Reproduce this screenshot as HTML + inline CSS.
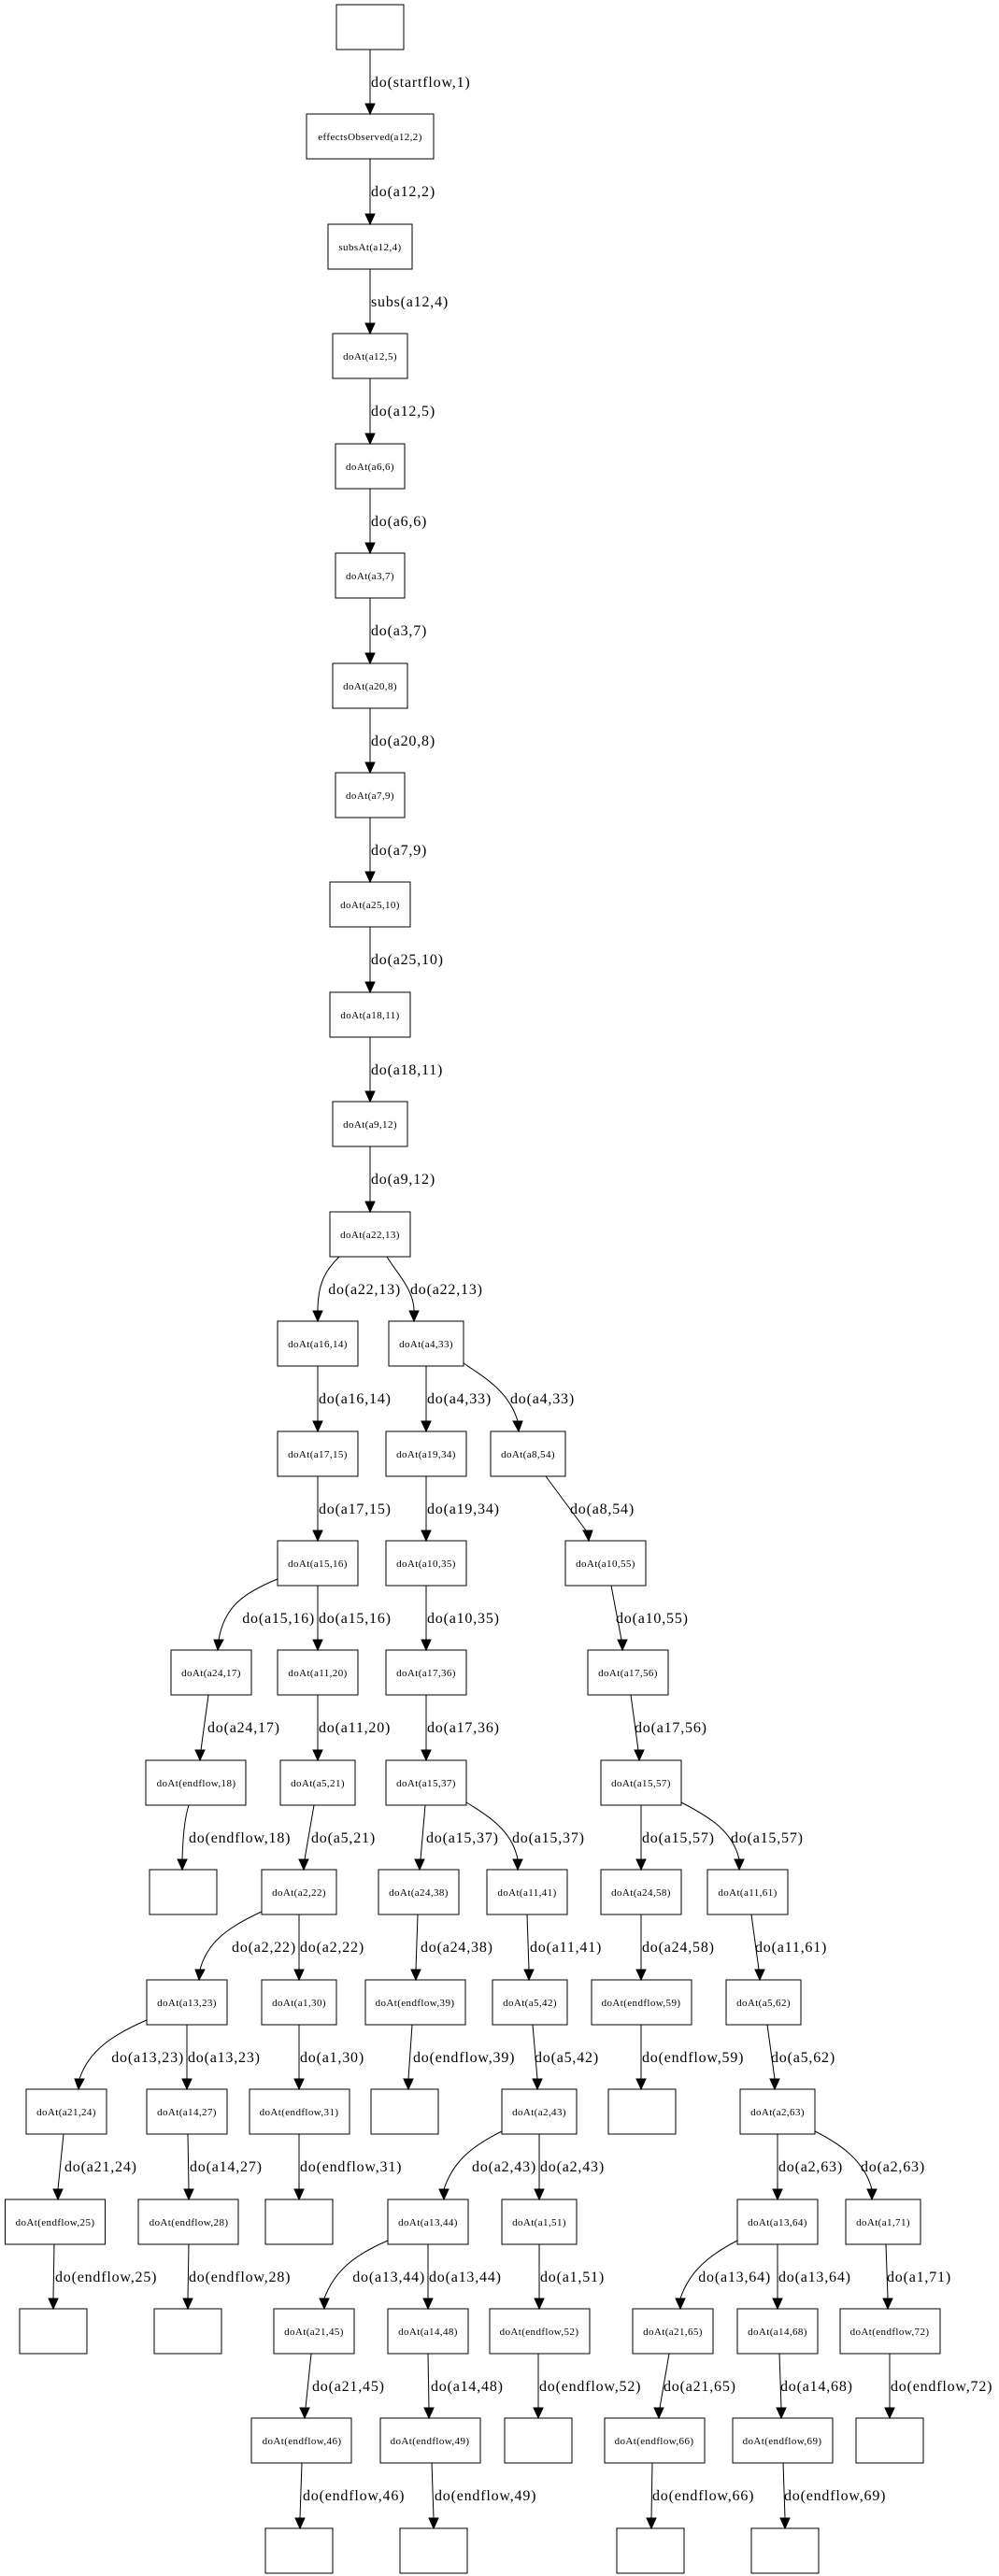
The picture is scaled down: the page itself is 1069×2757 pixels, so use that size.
<!DOCTYPE html>
<html><head><meta charset="utf-8"><style>
html,body{margin:0;padding:0;background:#fff}
svg{display:block}
.n{fill:#fff;stroke:#000;stroke-width:1}
.e{fill:none;stroke:#000;stroke-width:1}
.a{fill:#000;stroke:#000;stroke-width:1}
.t{font-family:"Liberation Serif",serif;font-size:11px;letter-spacing:0.4px;text-anchor:middle}
.l{font-family:"Liberation Serif",serif;font-size:16px;letter-spacing:0.8px}
.r{text-anchor:end}
</style></head><body>
<svg width="1069" height="2757" viewBox="0 0 1069 2757" xmlns="http://www.w3.org/2000/svg">
<g>
<!-- nodes -->
<rect class="n" x="360" y="5" width="72" height="48"/>
<rect class="n" x="328" y="122" width="136" height="48"/><text class="t" x="396" y="150">effectsObserved(a12,2)</text>
<rect class="n" x="351" y="240" width="90" height="48"/><text class="t" x="396" y="268">subsAt(a12,4)</text>
<rect class="n" x="356" y="357" width="80" height="48"/><text class="t" x="396" y="385">doAt(a12,5)</text>
<rect class="n" x="359" y="475" width="74" height="48"/><text class="t" x="396" y="503">doAt(a6,6)</text>
<rect class="n" x="359" y="592" width="74" height="48"/><text class="t" x="396" y="620">doAt(a3,7)</text>
<rect class="n" x="356" y="710" width="80" height="48"/><text class="t" x="396" y="738">doAt(a20,8)</text>
<rect class="n" x="359" y="827" width="74" height="48"/><text class="t" x="396" y="855">doAt(a7,9)</text>
<rect class="n" x="353" y="944" width="86" height="48"/><text class="t" x="396" y="972">doAt(a25,10)</text>
<rect class="n" x="353" y="1062" width="86" height="48"/><text class="t" x="396" y="1090">doAt(a18,11)</text>
<rect class="n" x="356" y="1179" width="80" height="48"/><text class="t" x="396" y="1207">doAt(a9,12)</text>
<rect class="n" x="353" y="1297" width="86" height="48"/><text class="t" x="396" y="1325">doAt(a22,13)</text>

<rect class="n" x="297" y="1414" width="86" height="48"/><text class="t" x="340" y="1442">doAt(a16,14)</text>
<rect class="n" x="416" y="1414" width="80" height="48"/><text class="t" x="456" y="1442">doAt(a4,33)</text>

<rect class="n" x="297" y="1532" width="86" height="48"/><text class="t" x="340" y="1560">doAt(a17,15)</text>
<rect class="n" x="413" y="1532" width="86" height="48"/><text class="t" x="456" y="1560">doAt(a19,34)</text>
<rect class="n" x="525" y="1532" width="80" height="48"/><text class="t" x="565" y="1560">doAt(a8,54)</text>

<rect class="n" x="297" y="1649" width="86" height="48"/><text class="t" x="340" y="1677">doAt(a15,16)</text>
<rect class="n" x="413" y="1649" width="86" height="48"/><text class="t" x="456" y="1677">doAt(a10,35)</text>
<rect class="n" x="605" y="1649" width="86" height="48"/><text class="t" x="648" y="1677">doAt(a10,55)</text>

<rect class="n" x="183" y="1766" width="86" height="48"/><text class="t" x="226" y="1794">doAt(a24,17)</text>
<rect class="n" x="297" y="1766" width="86" height="48"/><text class="t" x="340" y="1794">doAt(a11,20)</text>
<rect class="n" x="413" y="1766" width="86" height="48"/><text class="t" x="456" y="1794">doAt(a17,36)</text>
<rect class="n" x="629" y="1766" width="86" height="48"/><text class="t" x="672" y="1794">doAt(a17,56)</text>

<rect class="n" x="156" y="1884" width="107" height="48"/><text class="t" x="210" y="1912">doAt(endflow,18)</text>
<rect class="n" x="300" y="1884" width="80" height="48"/><text class="t" x="340" y="1912">doAt(a5,21)</text>
<rect class="n" x="413" y="1884" width="86" height="48"/><text class="t" x="456" y="1912">doAt(a15,37)</text>
<rect class="n" x="643" y="1884" width="86" height="48"/><text class="t" x="686" y="1912">doAt(a15,57)</text>

<rect class="n" x="160" y="2001" width="72" height="48"/>
<rect class="n" x="280" y="2001" width="80" height="48"/><text class="t" x="320" y="2029">doAt(a2,22)</text>
<rect class="n" x="405" y="2001" width="86" height="48"/><text class="t" x="448" y="2029">doAt(a24,38)</text>
<rect class="n" x="521" y="2001" width="86" height="48"/><text class="t" x="564" y="2029">doAt(a11,41)</text>
<rect class="n" x="643" y="2001" width="86" height="48"/><text class="t" x="686" y="2029">doAt(a24,58)</text>
<rect class="n" x="757" y="2001" width="86" height="48"/><text class="t" x="800" y="2029">doAt(a11,61)</text>

<rect class="n" x="157" y="2119" width="86" height="48"/><text class="t" x="200" y="2147">doAt(a13,23)</text>
<rect class="n" x="280" y="2119" width="80" height="48"/><text class="t" x="320" y="2147">doAt(a1,30)</text>
<rect class="n" x="391" y="2119" width="107" height="48"/><text class="t" x="444" y="2147">doAt(endflow,39)</text>
<rect class="n" x="527" y="2119" width="80" height="48"/><text class="t" x="567" y="2147">doAt(a5,42)</text>
<rect class="n" x="633" y="2119" width="107" height="48"/><text class="t" x="686" y="2147">doAt(endflow,59)</text>
<rect class="n" x="777" y="2119" width="80" height="48"/><text class="t" x="817" y="2147">doAt(a5,62)</text>

<rect class="n" x="28" y="2236" width="86" height="48"/><text class="t" x="71" y="2264">doAt(a21,24)</text>
<rect class="n" x="157" y="2236" width="86" height="48"/><text class="t" x="200" y="2264">doAt(a14,27)</text>
<rect class="n" x="267" y="2236" width="107" height="48"/><text class="t" x="320" y="2264">doAt(endflow,31)</text>
<rect class="n" x="397" y="2236" width="72" height="48"/>
<rect class="n" x="537" y="2236" width="80" height="48"/><text class="t" x="577" y="2264">doAt(a2,43)</text>
<rect class="n" x="651" y="2236" width="72" height="48"/>
<rect class="n" x="792" y="2236" width="80" height="48"/><text class="t" x="832" y="2264">doAt(a2,63)</text>

<rect class="n" x="5.5" y="2354" width="107" height="48"/><text class="t" x="59" y="2382">doAt(endflow,25)</text>
<rect class="n" x="148" y="2354" width="107" height="48"/><text class="t" x="202" y="2382">doAt(endflow,28)</text>
<rect class="n" x="284" y="2354" width="72" height="48"/>
<rect class="n" x="415" y="2354" width="86" height="48"/><text class="t" x="458" y="2382">doAt(a13,44)</text>
<rect class="n" x="537" y="2354" width="80" height="48"/><text class="t" x="577" y="2382">doAt(a1,51)</text>
<rect class="n" x="789" y="2354" width="86" height="48"/><text class="t" x="832" y="2382">doAt(a13,64)</text>
<rect class="n" x="905" y="2354" width="80" height="48"/><text class="t" x="945" y="2382">doAt(a1,71)</text>

<rect class="n" x="21" y="2471" width="72" height="48"/>
<rect class="n" x="165" y="2471" width="72" height="48"/>
<rect class="n" x="293" y="2471" width="86" height="48"/><text class="t" x="336" y="2499">doAt(a21,45)</text>
<rect class="n" x="415" y="2471" width="86" height="48"/><text class="t" x="458" y="2499">doAt(a14,48)</text>
<rect class="n" x="524" y="2471" width="107" height="48"/><text class="t" x="577" y="2499">doAt(endflow,52)</text>
<rect class="n" x="677" y="2471" width="86" height="48"/><text class="t" x="720" y="2499">doAt(a21,65)</text>
<rect class="n" x="789" y="2471" width="86" height="48"/><text class="t" x="832" y="2499">doAt(a14,68)</text>
<rect class="n" x="899" y="2471" width="107" height="48"/><text class="t" x="952" y="2499">doAt(endflow,72)</text>

<rect class="n" x="269" y="2588" width="107" height="48"/><text class="t" x="323" y="2616">doAt(endflow,46)</text>
<rect class="n" x="407" y="2588" width="107" height="48"/><text class="t" x="460" y="2616">doAt(endflow,49)</text>
<rect class="n" x="540" y="2588" width="72" height="48"/>
<rect class="n" x="647" y="2588" width="107" height="48"/><text class="t" x="700" y="2616">doAt(endflow,66)</text>
<rect class="n" x="784" y="2588" width="107" height="48"/><text class="t" x="837" y="2616">doAt(endflow,69)</text>
<rect class="n" x="916" y="2588" width="72" height="48"/>

<rect class="n" x="284" y="2706" width="72" height="48"/>
<rect class="n" x="428" y="2706" width="72" height="48"/>
<rect class="n" x="660" y="2706" width="72" height="48"/>
<rect class="n" x="804" y="2706" width="72" height="48"/>

<!-- edges -->
<path class="e" d="M396 53V111"/><polygon class="a" points="391,111 401,111 396,122"/><text class="l" x="397" y="93">do(startflow,1)</text>
<path class="e" d="M396 170V229"/><polygon class="a" points="391,229 401,229 396,240"/><text class="l" x="397" y="210">do(a12,2)</text>
<path class="e" d="M396 288V346"/><polygon class="a" points="391,346 401,346 396,357"/><text class="l" x="397" y="328">subs(a12,4)</text>
<path class="e" d="M396 405V464"/><polygon class="a" points="391,464 401,464 396,475"/><text class="l" x="397" y="445">do(a12,5)</text>
<path class="e" d="M396 523V581"/><polygon class="a" points="391,581 401,581 396,592"/><text class="l" x="397" y="563">do(a6,6)</text>
<path class="e" d="M396 640V699"/><polygon class="a" points="391,699 401,699 396,710"/><text class="l" x="397" y="680">do(a3,7)</text>
<path class="e" d="M396 758V816"/><polygon class="a" points="391,816 401,816 396,827"/><text class="l" x="397" y="798">do(a20,8)</text>
<path class="e" d="M396 875V933"/><polygon class="a" points="391,933 401,933 396,944"/><text class="l" x="397" y="915">do(a7,9)</text>
<path class="e" d="M396 992V1051"/><polygon class="a" points="391,1051 401,1051 396,1062"/><text class="l" x="397" y="1032">do(a25,10)</text>
<path class="e" d="M396 1110V1168"/><polygon class="a" points="391,1168 401,1168 396,1179"/><text class="l" x="397" y="1150">do(a18,11)</text>
<path class="e" d="M396 1227V1286"/><polygon class="a" points="391,1286 401,1286 396,1297"/><text class="l" x="397" y="1267">do(a9,12)</text>

<path class="e" d="M363 1345C351 1357 340 1370 340 1403"/><polygon class="a" points="335,1403 345,1403 340,1414"/><text class="l r" x="429" y="1385">do(a22,13)</text>
<path class="e" d="M414 1345C424 1362 443 1380 443 1403"/><polygon class="a" points="438,1403 448,1403 443,1414"/><text class="l" x="439" y="1385">do(a22,13)</text>

<path class="e" d="M340 1462V1521"/><polygon class="a" points="335,1521 345,1521 340,1532"/><text class="l" x="341" y="1502">do(a16,14)</text>
<path class="e" d="M456 1462V1521"/><polygon class="a" points="451,1521 461,1521 456,1532"/><text class="l" x="457" y="1502">do(a4,33)</text>
<path class="e" d="M496 1459C520 1475 545 1490 554 1521"/><polygon class="a" points="549,1521 559,1521 555,1532"/><text class="l" x="546" y="1502">do(a4,33)</text>

<path class="e" d="M340 1580V1638"/><polygon class="a" points="335,1638 345,1638 340,1649"/><text class="l" x="341" y="1620">do(a17,15)</text>
<path class="e" d="M456 1580V1638"/><polygon class="a" points="451,1638 461,1638 456,1649"/><text class="l" x="457" y="1620">do(a19,34)</text>
<path class="e" d="M584 1580L627 1638"/><polygon class="a" points="624,1638 634,1638 630,1649"/><text class="l" x="610" y="1620">do(a8,54)</text>

<path class="e" d="M297 1690C260 1705 240 1720 234 1755"/><polygon class="a" points="229,1755 239,1755 233,1766"/><text class="l r" x="337" y="1737">do(a15,16)</text>
<path class="e" d="M340 1697V1755"/><polygon class="a" points="335,1755 345,1755 340,1766"/><text class="l" x="341" y="1737">do(a15,16)</text>
<path class="e" d="M456 1697V1755"/><polygon class="a" points="451,1755 461,1755 456,1766"/><text class="l" x="457" y="1737">do(a10,35)</text>
<path class="e" d="M654 1697L665 1755"/><polygon class="a" points="661,1755 671,1755 666,1766"/><text class="l" x="659" y="1737">do(a10,55)</text>

<path class="e" d="M223 1814L215 1873"/><polygon class="a" points="209,1873 219,1873 214,1884"/><text class="l" x="222" y="1854">do(a24,17)</text>
<path class="e" d="M340 1814V1873"/><polygon class="a" points="335,1873 345,1873 340,1884"/><text class="l" x="341" y="1854">do(a11,20)</text>
<path class="e" d="M456 1814V1873"/><polygon class="a" points="451,1873 461,1873 456,1884"/><text class="l" x="457" y="1854">do(a17,36)</text>
<path class="e" d="M675 1814L683 1873"/><polygon class="a" points="679,1873 689,1873 684,1884"/><text class="l" x="679" y="1854">do(a17,56)</text>

<path class="e" d="M202 1932C198 1945 196 1960 195 1990"/><polygon class="a" points="190,1990 200,1990 195,2001"/><text class="l" x="202" y="1972">do(endflow,18)</text>
<path class="e" d="M336 1932L326 1990"/><polygon class="a" points="320,1990 330,1990 325,2001"/><text class="l" x="333" y="1972">do(a5,21)</text>
<path class="e" d="M455 1932L450 1990"/><polygon class="a" points="444,1990 454,1990 449,2001"/><text class="l" x="456" y="1972">do(a15,37)</text>
<path class="e" d="M499 1929C525 1945 548 1960 554 1990"/><polygon class="a" points="549,1990 559,1990 554,2001"/><text class="l" x="548" y="1972">do(a15,37)</text>
<path class="e" d="M686 1932V1990"/><polygon class="a" points="681,1990 691,1990 686,2001"/><text class="l" x="687" y="1972">do(a15,57)</text>
<path class="e" d="M729 1929C760 1945 784 1960 791 1990"/><polygon class="a" points="786,1990 796,1990 791,2001"/><text class="l" x="782" y="1972">do(a15,57)</text>

<path class="e" d="M280 2046C245 2062 222 2078 214 2108"/><polygon class="a" points="209,2108 219,2108 213,2119"/><text class="l r" x="317" y="2089">do(a2,22)</text>
<path class="e" d="M320 2049V2108"/><polygon class="a" points="315,2108 325,2108 320,2119"/><text class="l" x="321" y="2089">do(a2,22)</text>
<path class="e" d="M447 2049L445 2108"/><polygon class="a" points="440,2108 450,2108 445,2119"/><text class="l" x="450" y="2089">do(a24,38)</text>
<path class="e" d="M564 2049L566 2108"/><polygon class="a" points="561,2108 571,2108 566,2119"/><text class="l" x="567" y="2089">do(a11,41)</text>
<path class="e" d="M686 2049V2108"/><polygon class="a" points="681,2108 691,2108 686,2119"/><text class="l" x="687" y="2089">do(a24,58)</text>
<path class="e" d="M804 2049L812 2108"/><polygon class="a" points="808,2108 818,2108 813,2119"/><text class="l" x="808" y="2089">do(a11,61)</text>

<path class="e" d="M157 2162C120 2178 95 2195 85 2225"/><polygon class="a" points="80,2225 90,2225 84,2236"/><text class="l r" x="197" y="2207">do(a13,23)</text>
<path class="e" d="M200 2167V2225"/><polygon class="a" points="195,2225 205,2225 200,2236"/><text class="l" x="201" y="2207">do(a13,23)</text>
<path class="e" d="M320 2167V2225"/><polygon class="a" points="315,2225 325,2225 320,2236"/><text class="l" x="321" y="2207">do(a1,30)</text>
<path class="e" d="M441 2167L437 2225"/><polygon class="a" points="432,2225 442,2225 437,2236"/><text class="l" x="442" y="2207">do(endflow,39)</text>
<path class="e" d="M570 2167L575 2225"/><polygon class="a" points="570,2225 580,2225 575,2236"/><text class="l" x="572" y="2207">do(a5,42)</text>
<path class="e" d="M686 2167V2225"/><polygon class="a" points="681,2225 691,2225 686,2236"/><text class="l" x="687" y="2207">do(endflow,59)</text>
<path class="e" d="M821 2167L829 2225"/><polygon class="a" points="824,2225 834,2225 829,2236"/><text class="l" x="825" y="2207">do(a5,62)</text>

<path class="e" d="M68 2284L62 2343"/><polygon class="a" points="57,2343 67,2343 62,2354"/><text class="l" x="69" y="2324">do(a21,24)</text>
<path class="e" d="M201 2284L202 2343"/><polygon class="a" points="197,2343 207,2343 202,2354"/><text class="l" x="203" y="2324">do(a14,27)</text>
<path class="e" d="M320 2284V2343"/><polygon class="a" points="315,2343 325,2343 320,2354"/><text class="l" x="321" y="2324">do(endflow,31)</text>
<path class="e" d="M537 2281C505 2297 485 2313 475 2343"/><polygon class="a" points="470,2343 480,2343 475,2354"/><text class="l r" x="574" y="2324">do(a2,43)</text>
<path class="e" d="M577 2284V2343"/><polygon class="a" points="572,2343 582,2343 577,2354"/><text class="l" x="578" y="2324">do(a2,43)</text>
<path class="e" d="M832 2284V2343"/><polygon class="a" points="827,2343 837,2343 832,2354"/><text class="l" x="833" y="2324">do(a2,63)</text>
<path class="e" d="M872 2281C900 2295 925 2313 933 2343"/><polygon class="a" points="928,2343 938,2343 933,2354"/><text class="l" x="921" y="2324">do(a2,63)</text>

<path class="e" d="M58 2402L57 2460"/><polygon class="a" points="52,2460 62,2460 57,2471"/><text class="l" x="59" y="2442">do(endflow,25)</text>
<path class="e" d="M202 2402L201 2460"/><polygon class="a" points="196,2460 206,2460 201,2471"/><text class="l" x="202" y="2442">do(endflow,28)</text>
<path class="e" d="M415 2398C380 2413 358 2430 347 2460"/><polygon class="a" points="342,2460 352,2460 347,2471"/><text class="l r" x="455" y="2442">do(a13,44)</text>
<path class="e" d="M458 2402V2460"/><polygon class="a" points="453,2460 463,2460 458,2471"/><text class="l" x="459" y="2442">do(a13,44)</text>
<path class="e" d="M577 2402V2460"/><polygon class="a" points="572,2460 582,2460 577,2471"/><text class="l" x="578" y="2442">do(a1,51)</text>
<path class="e" d="M789 2398C760 2413 738 2430 728 2460"/><polygon class="a" points="723,2460 733,2460 728,2471"/><text class="l r" x="825" y="2442">do(a13,64)</text>
<path class="e" d="M832 2402V2460"/><polygon class="a" points="827,2460 837,2460 832,2471"/><text class="l" x="833" y="2442">do(a13,64)</text>
<path class="e" d="M948 2402L950 2460"/><polygon class="a" points="945,2460 955,2460 950,2471"/><text class="l" x="949" y="2442">do(a1,71)</text>

<path class="e" d="M333 2519L327 2577"/><polygon class="a" points="321,2577 331,2577 326,2588"/><text class="l" x="334" y="2559">do(a21,45)</text>
<path class="e" d="M458 2519L459 2577"/><polygon class="a" points="454,2577 464,2577 459,2588"/><text class="l" x="461" y="2559">do(a14,48)</text>
<path class="e" d="M576 2519V2577"/><polygon class="a" points="571,2577 581,2577 576,2588"/><text class="l" x="577" y="2559">do(endflow,52)</text>
<path class="e" d="M716 2519L706 2577"/><polygon class="a" points="700,2577 710,2577 705,2588"/><text class="l" x="710" y="2559">do(a21,65)</text>
<path class="e" d="M834 2519L836 2577"/><polygon class="a" points="831,2577 841,2577 836,2588"/><text class="l" x="835" y="2559">do(a14,68)</text>
<path class="e" d="M952 2519V2577"/><polygon class="a" points="947,2577 957,2577 952,2588"/><text class="l" x="953" y="2559">do(endflow,72)</text>

<path class="e" d="M323 2636L321 2695"/><polygon class="a" points="316,2695 326,2695 321,2706"/><text class="l" x="324" y="2676">do(endflow,46)</text>
<path class="e" d="M462 2636L464 2695"/><polygon class="a" points="459,2695 469,2695 464,2706"/><text class="l" x="465" y="2676">do(endflow,49)</text>
<path class="e" d="M698 2636L697 2695"/><polygon class="a" points="692,2695 702,2695 697,2706"/><text class="l" x="698" y="2676">do(endflow,66)</text>
<path class="e" d="M838 2636L840 2695"/><polygon class="a" points="835,2695 845,2695 840,2706"/><text class="l" x="839" y="2676">do(endflow,69)</text>
</g>
</svg>
</body></html>
